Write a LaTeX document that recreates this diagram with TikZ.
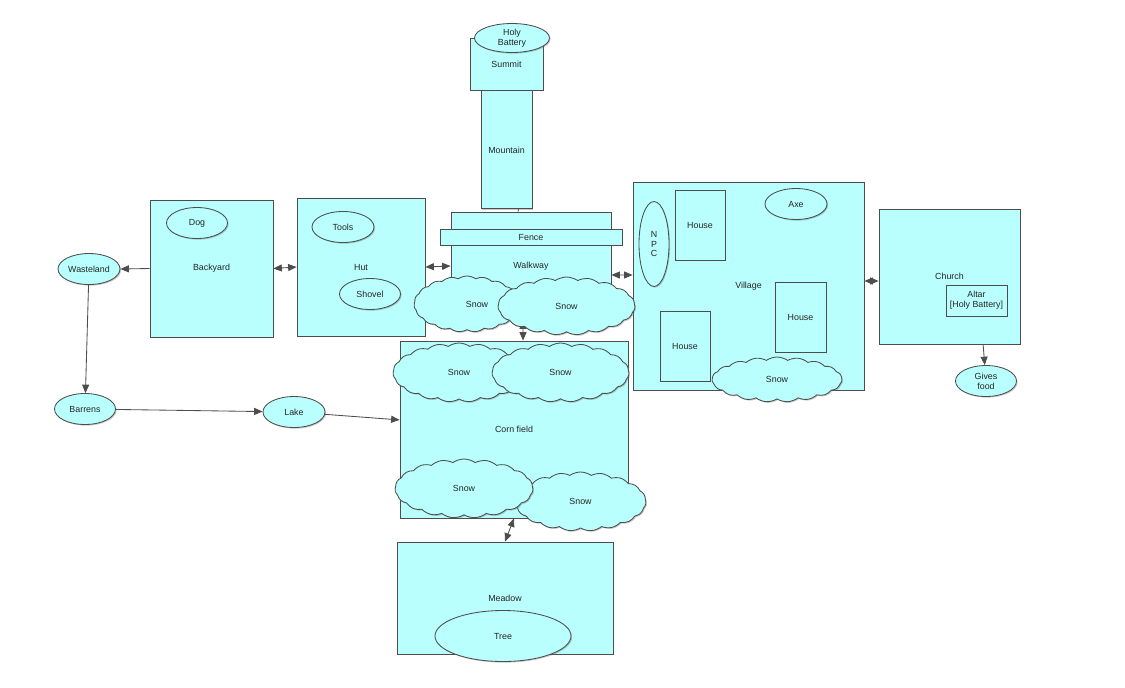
\documentclass[tikz,border=0pt]{standalone}
\usepackage{fontspec}
\setmainfont{Liberation Sans}
\usetikzlibrary{shadows,arrows,arrows.meta,shapes,positioning}
\definecolor{roomfill}{RGB}{184,255,253}
\definecolor{edgegray}{RGB}{77,77,77}
\tikzset{
  soft shadow/.style={
    drop shadow={shadow xshift=0.8pt, shadow yshift=-0.8pt, opacity=0.35, fill=black!60}
  },
  sz/.style 2 args={minimum width=#1*0.025cm, minimum height=#2*0.025cm}
}

\begin{document}
\begin{tikzpicture}[
        x=0.025cm, y=-0.025cm,
        font=\fontsize{6.3}{7}\selectfont,
        room/.style={draw=edgegray, line width=0.6pt, rectangle, fill=roomfill, inner sep=0pt, align=center, text=black!85, soft shadow},
        item/.style={draw=edgegray, line width=0.6pt, ellipse, fill=roomfill, inner sep=0pt, align=center, text=black!85, soft shadow},
        snow/.style={draw=edgegray, line width=0.6pt, cloud, cloud puffs=19, cloud puff arc=70, cloud ignores aspect, fill=roomfill, inner sep=0pt, text=black!85, soft shadow},
        link/.style={draw=edgegray, line width=0.6pt, >={Triangle[length=6pt,width=5pt]}}
    ]
        \useasboundingbox (0,0) rectangle (1125,687);

        % Rooms
        \node[room, sz={73}{52}] (summit) at (506.5,64) {Summit};
        \node[item, sz={75}{29}] (battery) at (512,38) {Holy\\Battery};
        \node[room, sz={51}{118}] (mountain) [below=0pt of summit] {Mountain};
        \node[room, sz={160}{108}] (walkway) at (531,266) {Walkway};
        \node[room, sz={182}{16}] (fence) at (531,237) {Fence};
        \node[room, sz={128}{138}] (hut) at (361,267) {Hut};
        \node[room, sz={123}{137}] (backyard) at (211.5,268.5) {Backyard};
        \node[room, sz={228}{177}] (corn) at (514,429.5) {Corn field};
        \node[room, sz={216}{112}] (meadow) at (505,598) {Meadow};
        \node[room, sz={231}{208}] (village) at (748.5,286) {Village};
        \node[room, sz={141}{135}] (church) at (949.5,276.5) {Church};

        % Things inside the rooms
        \node[item, sz={61}{31}] (dog) at (197,223) {Dog};
        \node[item, sz={62}{31}] (tools) at (343,227) {Tools};
        \node[item, sz={61}{31}] (shovel) at (370,294) {Shovel};
        \node[item, sz={136}{51}] (tree) at (503,636) {Tree};
        \node[item, sz={30}{85}, font=\fontsize{6.3}{6.6}\selectfont] (npc) at (654,244) {N\\P\\C};
        \node[item, sz={62}{31}] (axe) at (796,204) {Axe};
        \node[room, sz={50}{70}] (house1) at (700,225) {House};
        \node[room, sz={51}{70}] (house2) at (800.5,317) {House};
        \node[room, sz={50}{70}] (house3) at (685,346) {House};
        \node[room, sz={61}{31}] (altar) at (976.5,300.5) {Altar\\{[}Holy Battery]};

        % Places outside
        \node[item, sz={62}{31}] (wasteland) at (89,269) {Wasteland};
        \node[item, sz={61}{31}] (barrens) at (85,409) {Barrens};
        \node[item, sz={62}{31}] (lake) at (294,412) {Lake};
        \node[item, sz={61}{31}] (food) at (986,381) {Gives\\food};

        % Paths between places
        \draw[link] ([xshift=0.3cm]mountain.south) -- ([xshift=-0.325cm]walkway.north);
        \draw[link, ->] (backyard.west) -- (wasteland.east);
        \draw[link, <->] (backyard.east) -- (hut.west);
        \draw[link, <->] (hut.east) -- (walkway.west);
        \draw[link, <->] ([yshift=-0.225cm]walkway.east) -- ([yshift=0.275cm]village.west);
        \draw[link, <->] ([yshift=0.125cm]village.east) -- ([yshift=-0.1125cm]church.west);
        \draw[link, ->] ([xshift=0.84cm]church.south) -- (food);
        \draw[link, <->] ([xshift=-0.2cm]walkway.south) -- ([xshift=0.225cm]corn.north);
        \draw[link, <->] (corn.south) -- (meadow.north);
        \draw[link, ->] (wasteland) -- (barrens);
        \draw[link, ->] (barrens) -- (lake);
        \draw[link, ->] (lake) -- ([yshift=0.24cm]corn.west);

        % Snow on top
        \node[snow, sz={106}{56}] (snow1) at (467,304) {\hspace{0.5cm}Snow};
        \node[snow, sz={137}{58}] (snow2) at (566.5,306) {Snow};
        \node[snow, sz={132}{59}] (snow3) at (459,372.5) {Snow};
        \node[snow, sz={137}{59}] (snow4) at (560.5,372.5) {Snow};
        \node[snow, sz={131}{59}] (snow6) at (580.5,501.5) {Snow};
        \node[snow, sz={138}{59}] (snow5) at (464,488.5) {Snow};
        \node[snow, sz={130}{45}] (snow7) at (777,379.5) {Snow};
    \end{tikzpicture}
\end{document}
